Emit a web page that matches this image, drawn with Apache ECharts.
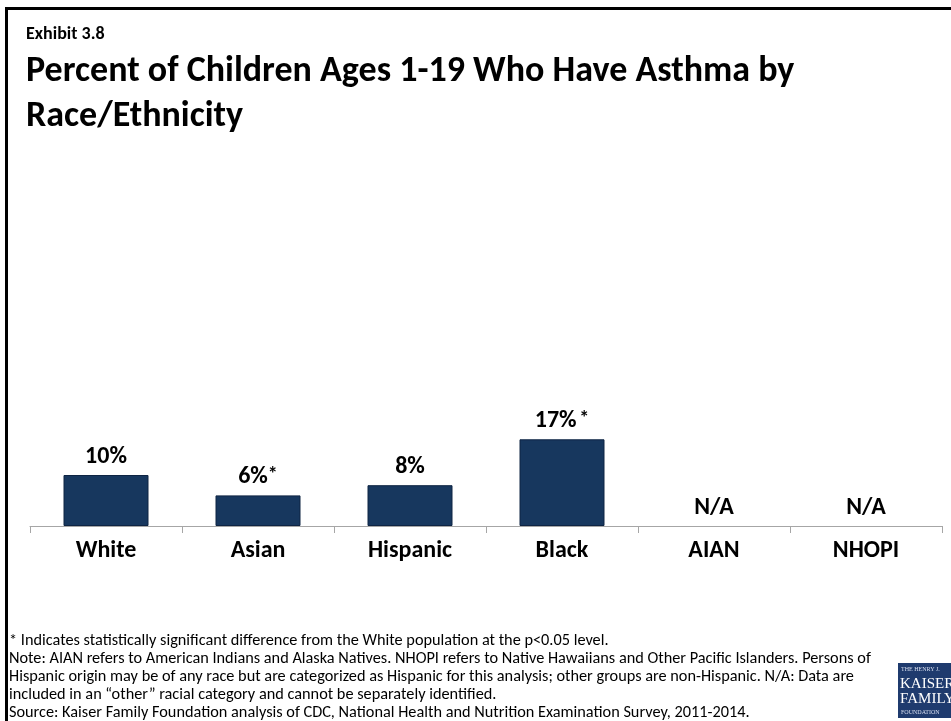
<!DOCTYPE html>
<html>
<head>
<meta charset="utf-8">
<script src="https://cdn.jsdelivr.net/npm/echarts@6/dist/echarts.min.js"></script>
<style>
  html, body { margin: 0; padding: 0; background: #ffffff; }
  #chart { width: 951px; height: 721px; }
</style>
</head>
<body>
<div id="chart"></div>
<script>
// Asthma prevalence among children ages 1-19, by race/ethnicity (percent)
const categories = ['White', 'Asian', 'Hispanic', 'Black', 'AIAN', 'NHOPI'];
const asthmaPct = [10, 6, 8, 17, null, null];
const significant = [false, true, false, true, false, false];
// Groups without separately reportable data (shown as N/A at the baseline)
const notAvailable = [null, null, null, null, 0, 0];

const exhibitLabel = 'Exhibit 3.8';
const titleText = 'Percent of Children Ages 1-19 Who Have Asthma by\nRace/Ethnicity';
const footnotes = [
  '* Indicates statistically significant difference from the White population at the p<0.05 level.',
  'Note: AIAN refers to American Indians and Alaska Natives. NHOPI refers to Native Hawaiians and Other Pacific Islanders. Persons of',
  'Hispanic origin may be of any race but are categorized as Hispanic for this analysis; other groups are non-Hispanic. N/A: Data are',
  'included in an \u201cother\u201d racial category and cannot be separately identified.',
  'Source: Kaiser Family Foundation analysis of CDC, National Health and Nutrition Examination Survey, 2011-2014.'
];

const FONT = 'Carlito, Lato, "Open Sans", sans-serif';
const NAVY = '#17375e';

const chart = echarts.init(document.getElementById('chart'), null, { renderer: 'canvas' });

const barData = asthmaPct.map((v, i) => ({ value: v, sig: significant[i] }));

const option = {
  animation: false,
  backgroundColor: '#ffffff',
  textStyle: { fontFamily: FONT },
  title: [
    {
      text: exhibitLabel,
      left: 26, top: 25, padding: 0,
      textStyle: { fontFamily: FONT, fontSize: 18, fontWeight: 'bold', color: '#000' }
    },
    {
      text: titleText,
      left: 26, top: 49, padding: 0,
      textStyle: { fontFamily: FONT, fontSize: 36, fontWeight: 'bold', color: '#000', lineHeight: 45 }
    }
  ],
  grid: { left: 30, right: 9, top: 271, bottom: 195, containLabel: false },
  xAxis: {
    type: 'category',
    data: categories,
    axisLine: { lineStyle: { color: '#a6a6a6', width: 1 } },
    axisTick: { show: true, length: 7, interval: 0, lineStyle: { color: '#a6a6a6' } },
    axisLabel: {
      interval: 0, margin: 12.5,
      fontFamily: FONT, fontSize: 24, fontWeight: 'bold', color: '#000'
    }
  },
  yAxis: {
    type: 'value', min: 0, max: 50,
    show: false,
    splitLine: { show: false }
  },
  series: [
    {
      type: 'bar',
      data: barData,
      barWidth: 85,
      itemStyle: { color: NAVY, borderColor: '#0e2443', borderWidth: 1 },
      label: {
        show: true,
        position: 'top',
        distance: 6.5,
        formatter: p => p.data.sig
          ? (p.dataIndex === 3 ? '{v|' + p.value + '%} {s|*}' : '{v|' + p.value + '%}{s|*}')
          : '{v|' + p.value + '%}',
        rich: {
          v: { fontFamily: FONT, fontSize: 24, fontWeight: 'bold', color: '#000' },
          s: { fontFamily: FONT, fontSize: 20, fontWeight: 'bold', color: '#000', verticalAlign: 'top' }
        }
      }
    },
    {
      type: 'scatter',
      data: notAvailable,
      symbolSize: 0,
      silent: true,
      itemStyle: { opacity: 1 },
      label: {
        show: true,
        position: 'top',
        distance: 6.5,
        formatter: 'N/A',
        fontFamily: FONT, fontSize: 24, fontWeight: 'bold', color: '#000'
      }
    }
  ],
  graphic: [
    // frame around the exhibit
    {
      type: 'rect',
      shape: { x: 6.5, y: 8.5, width: 980, height: 760 },
      style: { fill: null, stroke: '#000', lineWidth: 3 },
      silent: true
    },
    // footnotes
    ...footnotes.map((t, i) => ({
      type: 'text',
      left: 9,
      top: 633 + i * 18,
      style: { text: t, fontFamily: FONT, fontSize: 16.3, fill: '#000' },
      silent: true
    })),
    // foundation logo block
    {
      type: 'group',
      left: 898, top: 663,
      children: [
        { type: 'rect', shape: { x: 0, y: 0, width: 70, height: 55 }, style: { fill: '#1f3b6e' } },
        { type: 'text', x: 3, y: 3, style: { text: 'THE HENRY J.', fontFamily: '"Liberation Serif", serif', fontSize: 6, fill: '#d8dff0' } },
        { type: 'text', x: 2, y: 14, style: { text: 'KAISER', fontFamily: '"Liberation Serif", serif', fontSize: 15, fill: '#ffffff' } },
        { type: 'text', x: 2, y: 29, style: { text: 'FAMILY', fontFamily: '"Liberation Serif", serif', fontSize: 15, fill: '#ffffff' } },
        { type: 'text', x: 3, y: 46, style: { text: 'FOUNDATION', fontFamily: '"Liberation Serif", serif', fontSize: 6, fill: '#d8dff0' } }
      ]
    }
  ]
};

chart.setOption(option);
</script>
</body>
</html>
